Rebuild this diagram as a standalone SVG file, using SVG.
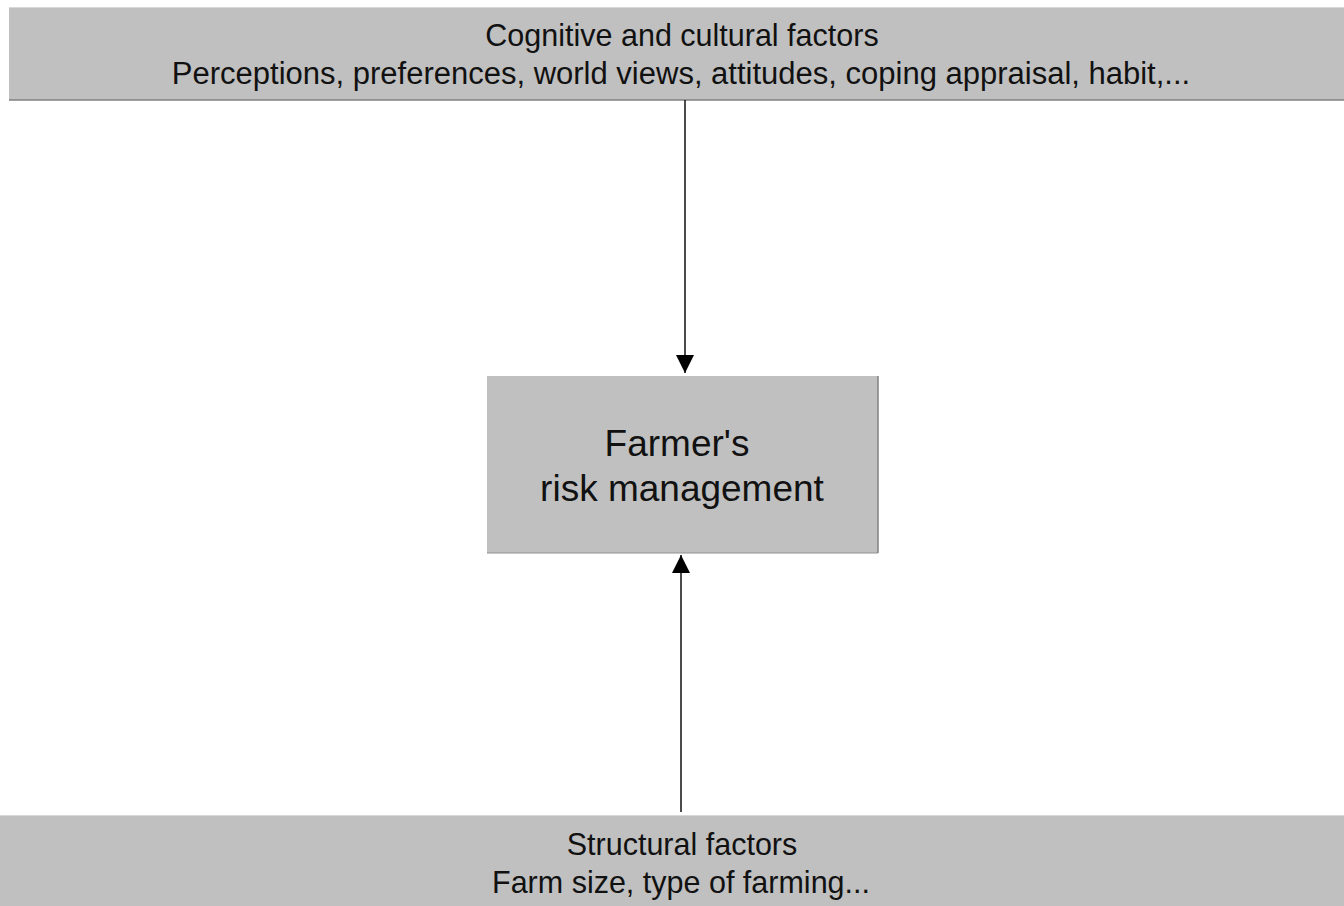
<svg xmlns="http://www.w3.org/2000/svg" width="1344" height="906" viewBox="0 0 1344 906">
<style>
.box{fill:#c0c0c0;}
.t{font-family:"Liberation Sans",Arial,sans-serif;fill:#111;text-anchor:middle;}
.edge{stroke:#111;stroke-width:1.5;fill:none;}
</style>
<defs>
<marker id="ah" markerWidth="18" markerHeight="18" viewBox="0 0 18 18" refX="18" refY="9" orient="auto" markerUnits="userSpaceOnUse">
<path d="M0,0 L18,9 L0,18 Z" fill="#000"/>
</marker>
</defs>
<rect width="1344" height="906" fill="#fff"/>
<g id="cognitive">
<rect class="box" x="9" y="7" width="1335" height="93"/>
<line x1="9" y1="7.5" x2="1344" y2="7.5" stroke="#d8d8d8" stroke-width="1"/>
<line x1="9" y1="100" x2="1344" y2="100" stroke="#808080" stroke-width="1.5"/>
<text class="t" x="682" y="46" font-size="30.5">Cognitive and cultural factors</text>
<text class="t" x="681" y="84" font-size="31">Perceptions, preferences, world views, attitudes, coping appraisal, habit,...</text>
</g>
<g id="farmer">
<rect class="box" x="487" y="376" width="391" height="177"/>
<line x1="878" y1="376" x2="878" y2="553" stroke="#808080" stroke-width="1.5"/>
<line x1="487" y1="553" x2="878" y2="553" stroke="#909090" stroke-width="1"/>
<text class="t" x="677" y="456" font-size="37">Farmer's</text>
<text class="t" x="682" y="501" font-size="37">risk management</text>
</g>
<g id="structural">
<rect class="box" x="0" y="815" width="1344" height="91"/>
<line x1="0" y1="815.5" x2="1344" y2="815.5" stroke="#d8d8d8" stroke-width="1"/>
<text class="t" x="682" y="855" font-size="30.5">Structural factors</text>
<text class="t" x="681" y="893" font-size="30.5">Farm size, type of farming...</text>
</g>
<g id="connectors">
<line class="edge" x1="685" y1="100" x2="685" y2="373" marker-end="url(#ah)"/>
<line class="edge" x1="681" y1="812" x2="681" y2="555" marker-end="url(#ah)"/>
</g>
</svg>
